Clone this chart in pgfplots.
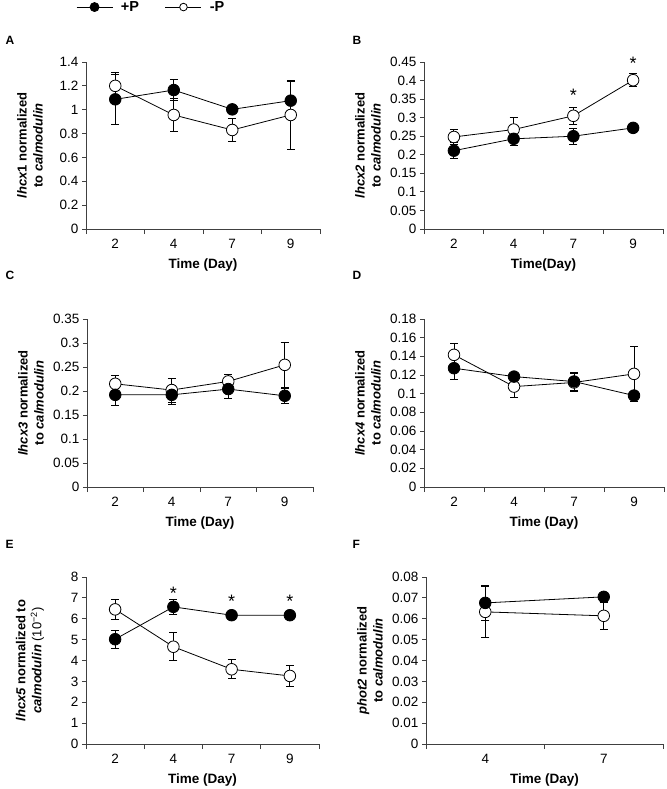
\documentclass[border=0pt]{standalone}
\usepackage{fontspec}
\setmainfont{Liberation Sans}
\usepackage{pgfplots}
\pgfplotsset{compat=1.18}

\pgfplotsset{
  panel/.style={
    scale only axis,
    axis lines=left,
    axis line style={-, line width=0.8pt, black!75},
    tick align=outside,
    tick style={black!75, line width=0.8pt},
    major tick length=4pt,
    minor tick length=5pt,
    ymin=0,
    xtick={0,1,2,3}, xticklabels={2,4,7,9},
    major x tick style={draw=none},
    minor xtick={-0.5,0.5,1.5,2.5,3.5},
    xmin=-0.5, xmax=3.5,
    scaled y ticks=false,
    tick label style={font=\fontsize{13.5}{15}\selectfont},
    xticklabel style={yshift=-3pt},
    /pgf/number format/assume math mode=true,
    yticklabel style={/pgf/number format/fixed, /pgf/number format/precision=2},
    every axis y label/.style={at={(axis description cs:0,0.5)}, xshift=-56pt, rotate=90, anchor=center, align=center, font=\fontsize{13}{16}\selectfont\bfseries},
    every axis x label/.style={at={(axis description cs:0.5,0)}, yshift=-36pt, anchor=center, font=\fontsize{13.5}{16}\selectfont\bfseries},
    clip=false,
  },
  plusP/.style={black, line width=0.8pt, mark=*, mark size=5.8pt, mark options={fill=black, solid},
    error bars/.cd, y dir=both, y explicit, error bar style={line width=0.8pt, black},
    error mark options={rotate=90, mark size=4pt, line width=0.8pt, black}, /pgfplots/.cd},
  minusP/.style={black, line width=0.8pt, mark=*, mark size=5.8pt, mark options={fill=white, solid},
    error bars/.cd, y dir=both, y explicit, error bar style={line width=0.8pt, black},
    error mark options={rotate=90, mark size=4pt, line width=0.8pt, black}, /pgfplots/.cd},
}
\newcommand{\sig}{\fontsize{18}{18}\selectfont *}

\begin{document}
\begin{tikzpicture}
\useasboundingbox (0pt,0pt) rectangle (666pt,-789pt);

% Panel letters
\node[font=\fontsize{12}{12}\selectfont\bfseries, anchor=west] at (2pt,-40pt) {A};
\node[font=\fontsize{12}{12}\selectfont\bfseries, anchor=west] at (349pt,-40pt) {B};
\node[font=\fontsize{12}{12}\selectfont\bfseries, anchor=west] at (2pt,-275pt) {C};
\node[font=\fontsize{12}{12}\selectfont\bfseries, anchor=west] at (349pt,-275pt) {D};
\node[font=\fontsize{12}{12}\selectfont\bfseries, anchor=west] at (2pt,-544pt) {E};
\node[font=\fontsize{12}{12}\selectfont\bfseries, anchor=west] at (349pt,-544pt) {F};

% A
\begin{axis}[panel, at={(86pt,-229pt)}, anchor=south west, width=234pt, height=167pt,
  ymax=1.4, ytick={0,0.2,0.4,0.6,0.8,1,1.2,1.4},
  ylabel={\textit{lhcx}1 normalized\\to \textit{calmodulin}}, xlabel={Time (Day)},
  legend columns=2,
  legend style={at={(axis description cs:-0.043,1.329)}, anchor=west, draw=none, fill=none,
    font=\fontsize{14.5}{15}\selectfont\bfseries, inner sep=0pt,
    /tikz/every even column/.append style={column sep=24pt},
    /tikz/every odd column/.append style={column sep=6pt}},
  legend image code/.code={\draw[mark repeat=2,mark phase=2,#1] plot coordinates {(0pt,0pt) (18pt,0pt) (36pt,0pt)};},
]
\addlegendimage{black, line width=0.8pt, mark=*, mark size=4.5pt, mark options={fill=black}}
\addlegendentry{+P}
\addlegendimage{black, line width=0.8pt, mark=*, mark size=3.8pt, mark options={fill=white}}
\addlegendentry{-P}
\addplot[forget plot, minusP] coordinates {(0,1.20) +- (0,0.11) (1,0.956) +- (0,0.14) (2,0.83) +- (0,0.095) (3,0.956) +- (0,0.29)};
\addplot[forget plot, plusP] coordinates {(0,1.087) +- (0,0.21) (1,1.165) +- (0,0.085) (2,1.003) +- (0,0.02) (3,1.076) +- (0,0.16)};
\end{axis}

% B
\begin{axis}[panel, at={(424pt,-229pt)}, anchor=south west, width=239pt, height=167pt,
  ymax=0.45, ytick={0,0.05,0.1,0.15,0.2,0.25,0.3,0.35,0.4,0.45},
  ylabel={\textit{lhcx2} normalized\\to \textit{calmodulin}}, xlabel={Time(Day)}]
\addplot[minusP] coordinates {(0,0.248) +- (0,0.02) (1,0.268) +- (0,0.034) (2,0.305) +- (0,0.024) (3,0.401) +- (0,0.018)};
\addplot[plusP] coordinates {(0,0.211) +- (0,0.022) (1,0.243) +- (0,0.019) (2,0.25) +- (0,0.021) (3,0.2725) +- (0,0.005)};
\node[yshift=-3pt] at (axis cs:2,0.367) {\sig};
\node[yshift=-3pt] at (axis cs:3,0.455) {\sig};
\end{axis}

% C
\begin{axis}[panel, at={(87pt,-487pt)}, anchor=south west, width=226pt, height=168pt,
  ymax=0.35, ytick={0,0.05,0.1,0.15,0.2,0.25,0.3,0.35},
  ylabel={\textit{lhcx3} normalized\\to \textit{calmodulin}}, xlabel={Time (Day)}]
\addplot[minusP] coordinates {(0,0.215) +- (0,0.017) (1,0.202) +- (0,0.025) (2,0.22) +- (0,0.015) (3,0.2545) +- (0,0.047)};
\addplot[plusP] coordinates {(0,0.192) +- (0,0.022) (1,0.192) +- (0,0.019) (2,0.204) +- (0,0.02) (3,0.19) +- (0,0.015)};
\end{axis}

% D
\begin{axis}[panel, at={(424pt,-487pt)}, anchor=south west, width=240pt, height=168pt,
  ymax=0.18, ytick={0,0.02,0.04,0.06,0.08,0.1,0.12,0.14,0.16,0.18},
  ylabel={\textit{lhcx4} normalized\\to \textit{calmodulin}}, xlabel={Time (Day)}]
\addplot[minusP] coordinates {(0,0.1416) +- (0,0.0126) (1,0.1076) +- (0,0.0115) (2,0.112) +- (0,0.01) (3,0.1212) +- (0,0.029)};
\addplot[plusP] coordinates {(0,0.1273) +- (0,0.0115) (1,0.1183) +- (0,0.003) (2,0.113) +- (0,0.0097) (3,0.098) +- (0,0.004)};
\end{axis}

% E
\begin{axis}[panel, at={(86pt,-744pt)}, anchor=south west, width=233pt, height=167pt,
  ymax=8, ytick={0,1,2,3,4,5,6,7,8},
  ylabel={\textit{lhcx5} normalized to\\\textit{calmodulin} \textmd{(10\textsuperscript{−2})}}, xlabel={Time (Day)}]
\addplot[minusP] coordinates {(0,6.45) +- (0,0.48) (1,4.66) +- (0,0.67) (2,3.58) +- (0,0.46) (3,3.26) +- (0,0.5)};
\addplot[plusP] coordinates {(0,5.02) +- (0,0.43) (1,6.57) +- (0,0.35) (2,6.17) +- (0,0.1) (3,6.17) +- (0,0.15)};
\node[yshift=-3pt] at (axis cs:1,7.38) {\sig};
\node[yshift=-3pt] at (axis cs:2,7.0) {\sig};
\node[yshift=-3pt] at (axis cs:3,7.0) {\sig};
\end{axis}

% F
\begin{axis}[panel, at={(426pt,-744pt)}, anchor=south west, width=237pt, height=167pt,
  xtick={0,1}, xticklabels={4,7}, minor xtick={-0.5,0.5,1.5}, xmin=-0.5, xmax=1.5,
  ymax=0.08, ytick={0,0.01,0.02,0.03,0.04,0.05,0.06,0.07,0.08},
  ylabel={\textit{phot2} normalized\\to \textit{calmodulin}}, xlabel={Time (Day)}]
\addplot[minusP] coordinates {(0,0.0633) +- (0,0.012) (1,0.0614) +- (0,0.0065)};
\addplot[plusP] coordinates {(0,0.0676) +- (0,0.0085) (1,0.0705) +- (0,0.002)};
\end{axis}
\end{tikzpicture}
\end{document}
